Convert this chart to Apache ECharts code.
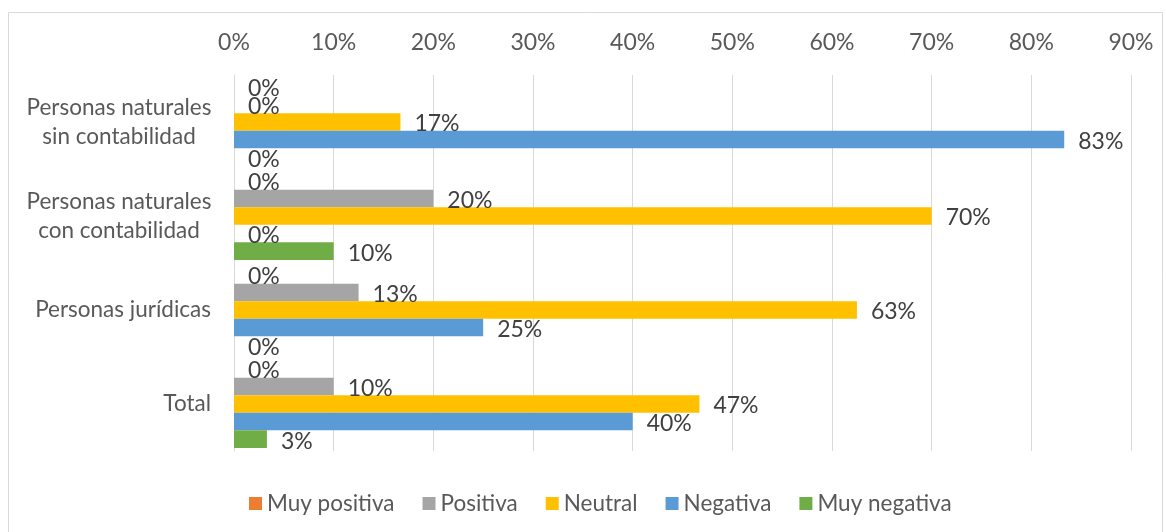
<!DOCTYPE html>
<html>
<head>
<meta charset="utf-8">
<script src="https://cdn.jsdelivr.net/npm/echarts@6/dist/echarts.min.js"></script>
<style>
html,body{margin:0;padding:0;background:#fff;}
#chart{width:1166px;height:532px;}
</style>
</head>
<body>
<div id="chart"></div>
<script>
const categories = ['Personas naturales\nsin contabilidad', 'Personas naturales\ncon contabilidad', 'Personas jurídicas', 'Total'];
const seriesNames = ['Muy positiva', 'Positiva', 'Neutral', 'Negativa', 'Muy negativa'];
const muyPositiva = [0, 0, 0, 0];
const positiva = [0, 20, 12.5, 10];
const neutral = [16.7, 70, 62.5, 46.7];
const negativa = [83.3, 0, 25, 40];
const muyNegativa = [0, 10, 0, 3.3];
const colors = ['#ED7D31', '#A5A5A5', '#FFC000', '#5B9BD5', '#70AD47'];
const xTicks = [0, 10, 20, 30, 40, 50, 60, 70, 80, 90];

const FONT = 'Lato';
const FS = 22.5;
const FSN = 23;
const allValues = [muyPositiva, positiva, neutral, negativa, muyNegativa];

const chart = echarts.init(document.getElementById('chart'));
chart.setOption({
  animation: false,
  color: colors,
  textStyle: { fontFamily: FONT },
  graphic: [{
    type: 'rect',
    shape: { x: 8.5, y: 12.5, width: 1154, height: 530 },
    style: { fill: 'none', stroke: '#d9d9d9', lineWidth: 1 },
    silent: true
  }],
  grid: { left: 234, right: 35, top: 75, bottom: 81, containLabel: false },
  legend: {
    data: seriesNames,
    left: 249,
    top: 492,
    padding: 0,
    icon: 'rect',
    itemWidth: 13,
    itemHeight: 13,
    itemGap: 28,
    textStyle: { fontFamily: FONT, fontSize: FS, color: '#595959' }
  },
  xAxis: {
    type: 'value',
    position: 'top',
    min: xTicks[0],
    max: xTicks[xTicks.length - 1],
    interval: 10,
    axisLine: { show: false },
    axisTick: { show: false },
    splitLine: { lineStyle: { color: '#d9d9d9', width: 1 } },
    axisLabel: { formatter: '{value}%', color: '#595959', fontSize: FSN, fontFamily: FONT, margin: 21 }
  },
  yAxis: {
    type: 'category',
    data: categories,
    inverse: true,
    axisLine: { show: true, lineStyle: { color: '#d9d9d9' } },
    axisTick: { show: false },
    axisLabel: {
      color: '#595959', fontSize: FS, fontFamily: FONT, margin: 23, lineHeight: 29,
      formatter: function (v) {
        if (v.indexOf('\n') >= 0) {
          return v.split('\n').map(function (l) { return '{c|' + l + '}'; }).join('\n');
        }
        return v;
      },
      rich: { c: { width: 184, align: 'center', fontSize: FS, color: '#595959', fontFamily: FONT, lineHeight: 29 } }
    }
  },
  series: seriesNames.map(function (name, i) {
    return {
      name: name,
      type: 'bar',
      data: allValues[i],
      barGap: '0%',
      barCategoryGap: '6.5%',
      label: {
        show: true,
        position: 'right',
        distance: 14,
        offset: [0, 2],
        color: '#404040',
        fontSize: FSN,
        fontFamily: FONT,
        formatter: function (p) { return Math.round(p.value) + '%'; }
      }
    };
  })
});
</script>
</body>
</html>
